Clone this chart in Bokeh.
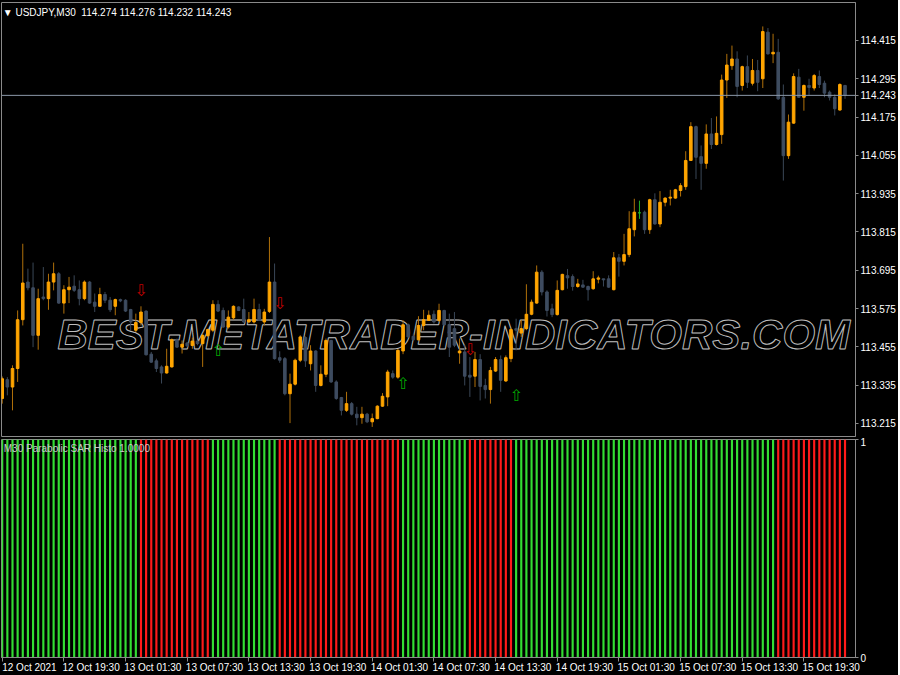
from bokeh.plotting import figure
from bokeh.layouts import column
from bokeh.models import Range1d, FixedTicker, Span, Label, NumeralTickFormatter
from bokeh.core.properties import value
from bokeh.embed import file_html
from bokeh.resources import INLINE

# ---------------- data ----------------
chart_title = "USDJPY,M30\u00a0\u00a0114.274 114.276 114.232 114.243"
indicator_title = "M30 Parabolic SAR Histo 1.0000"
last_price = 114.243

opens = [113.293, 113.352, 113.329, 113.387, 113.540, 113.658, 113.640, 113.491, 113.611, 113.606,
         113.658, 113.684, 113.592, 113.634, 113.645, 113.634, 113.606, 113.658, 113.595, 113.582,
         113.619, 113.601, 113.582, 113.603, 113.601, 113.572, 113.507, 113.531, 113.567, 113.432,
         113.411, 113.392, 113.373, 113.392, 113.477, 113.454, 113.467, 113.459, 113.473, 113.465,
         113.490, 113.507, 113.588, 113.569, 113.517, 113.546, 113.580, 113.572, 113.533, 113.533,
         113.572, 113.533, 113.566, 113.658, 113.421, 113.418, 113.308, 113.338, 113.413, 113.484,
         113.402, 113.442, 113.334, 113.369, 113.475, 113.345, 113.296, 113.256, 113.277, 113.244,
         113.233, 113.244, 113.220, 113.230, 113.269, 113.298, 113.371, 113.360, 113.442, 113.524,
         113.488, 113.477, 113.522, 113.538, 113.557, 113.538, 113.569, 113.525, 113.512, 113.436,
         113.439, 113.366, 113.363, 113.415, 113.334, 113.321, 113.379, 113.415, 113.348, 113.418,
         113.512, 113.498, 113.512, 113.557, 113.592, 113.689, 113.627, 113.574, 113.556, 113.634,
         113.678, 113.675, 113.644, 113.649, 113.644, 113.637, 113.667, 113.668, 113.668, 113.634,
         113.734, 113.723, 113.744, 113.822, 113.875, 113.877, 113.822, 113.916, 113.840, 113.908,
         113.921, 113.921, 113.945, 113.957, 114.039, 114.145, 114.051, 114.030, 114.122, 114.089,
         114.120, 114.291, 114.336, 114.357, 114.274, 114.333, 114.281, 114.321, 114.295, 114.441,
         114.373, 114.378, 114.237, 114.054, 114.156, 114.300, 114.237, 114.274, 114.266, 114.302,
         114.281, 114.253, 114.237, 114.197, 114.274]
highs = [113.362, 113.360, 113.397, 113.569, 113.778, 113.700, 113.719, 113.637, 113.705, 113.684,
         113.719, 113.689, 113.648, 113.674, 113.679, 113.663, 113.663, 113.661, 113.622, 113.640,
         113.627, 113.611, 113.606, 113.606, 113.604, 113.574, 113.559, 113.582, 113.569, 113.439,
         113.418, 113.397, 113.449, 113.481, 113.481, 113.475, 113.470, 113.484, 113.475, 113.496,
         113.512, 113.601, 113.601, 113.578, 113.569, 113.585, 113.582, 113.606, 113.564, 113.606,
         113.590, 113.574, 113.799, 113.716, 113.441, 113.423, 113.371, 113.418, 113.491, 113.488,
         113.460, 113.444, 113.397, 113.481, 113.477, 113.350, 113.298, 113.314, 113.282, 113.267,
         113.267, 113.248, 113.246, 113.272, 113.310, 113.383, 113.381, 113.448, 113.538, 113.528,
         113.496, 113.551, 113.571, 113.569, 113.569, 113.590, 113.571, 113.559, 113.564, 113.481,
         113.460, 113.423, 113.439, 113.432, 113.355, 113.392, 113.423, 113.428, 113.428, 113.515,
         113.543, 113.540, 113.651, 113.603, 113.710, 113.695, 113.632, 113.590, 113.663, 113.684,
         113.699, 113.682, 113.668, 113.665, 113.647, 113.692, 113.678, 113.668, 113.679, 113.752,
         113.746, 113.809, 113.880, 113.919, 113.913, 113.882, 113.919, 113.936, 113.943, 113.924,
         113.947, 113.950, 113.968, 114.068, 114.159, 114.148, 114.086, 114.152, 114.172, 114.177,
         114.308, 114.373, 114.399, 114.381, 114.336, 114.368, 114.357, 114.354, 114.459, 114.454,
         114.436, 114.420, 114.277, 114.183, 114.312, 114.326, 114.277, 114.295, 114.310, 114.321,
         114.289, 114.258, 114.246, 114.281, 114.276]
lows = [113.277, 113.303, 113.256, 113.345, 113.522, 113.632, 113.454, 113.446, 113.601, 113.571,
        113.632, 113.590, 113.559, 113.592, 113.627, 113.585, 113.601, 113.590, 113.564, 113.580,
        113.592, 113.564, 113.554, 113.595, 113.564, 113.507, 113.501, 113.522, 113.428, 113.405,
        113.376, 113.340, 113.371, 113.390, 113.452, 113.434, 113.454, 113.449, 113.460, 113.392,
        113.486, 113.501, 113.564, 113.515, 113.512, 113.540, 113.567, 113.530, 113.530, 113.528,
        113.536, 113.522, 113.561, 113.415, 113.405, 113.303, 113.216, 113.334, 113.407, 113.392,
        113.381, 113.314, 113.331, 113.360, 113.342, 113.289, 113.240, 113.251, 113.240, 113.209,
        113.214, 113.216, 113.204, 113.228, 113.267, 113.269, 113.355, 113.355, 113.432, 113.484,
        113.475, 113.475, 113.507, 113.536, 113.528, 113.533, 113.522, 113.423, 113.454, 113.402,
        113.334, 113.298, 113.329, 113.287, 113.293, 113.277, 113.376, 113.314, 113.345, 113.407,
        113.444, 113.486, 113.507, 113.554, 113.590, 113.616, 113.550, 113.548, 113.553, 113.632,
        113.637, 113.631, 113.640, 113.640, 113.600, 113.634, 113.654, 113.644, 113.640, 113.632,
        113.675, 113.710, 113.736, 113.801, 113.856, 113.809, 113.809, 113.838, 113.830, 113.895,
        113.898, 113.919, 113.926, 113.947, 114.039, 113.981, 113.947, 114.013, 114.075, 114.086,
        114.091, 114.235, 114.323, 114.237, 114.258, 114.266, 114.274, 114.256, 114.266, 114.371,
        114.344, 114.229, 113.976, 114.044, 114.154, 114.235, 114.195, 114.242, 114.258, 114.266,
        114.237, 114.227, 114.180, 114.195, 114.232]
closes = [113.355, 113.329, 113.387, 113.540, 113.655, 113.640, 113.491, 113.606, 113.606, 113.658,
          113.684, 113.592, 113.634, 113.642, 113.632, 113.606, 113.658, 113.592, 113.582, 113.619,
          113.601, 113.571, 113.603, 113.599, 113.567, 113.533, 113.531, 113.564, 113.430, 113.407,
          113.387, 113.373, 113.394, 113.477, 113.454, 113.463, 113.458, 113.473, 113.465, 113.491,
          113.509, 113.588, 113.567, 113.517, 113.548, 113.582, 113.569, 113.533, 113.540, 113.572,
          113.538, 113.564, 113.658, 113.418, 113.413, 113.308, 113.338, 113.413, 113.486, 113.411,
          113.442, 113.334, 113.369, 113.475, 113.345, 113.293, 113.256, 113.277, 113.244, 113.233,
          113.244, 113.220, 113.230, 113.269, 113.300, 113.376, 113.360, 113.444, 113.524, 113.486,
          113.477, 113.522, 113.540, 113.554, 113.533, 113.569, 113.524, 113.454, 113.460, 113.442,
          113.363, 113.360, 113.415, 113.331, 113.321, 113.381, 113.415, 113.350, 113.421, 113.509,
          113.507, 113.512, 113.557, 113.595, 113.689, 113.627, 113.569, 113.556, 113.632, 113.682,
          113.671, 113.644, 113.652, 113.642, 113.634, 113.668, 113.671, 113.665, 113.642, 113.734,
          113.723, 113.744, 113.825, 113.877, 113.875, 113.822, 113.916, 113.840, 113.908, 113.921,
          113.924, 113.947, 113.960, 114.039, 114.145, 114.049, 114.030, 114.122, 114.089, 114.124,
          114.291, 114.338, 114.357, 114.271, 114.333, 114.284, 114.321, 114.284, 114.443, 114.373,
          114.378, 114.232, 114.054, 114.159, 114.302, 114.237, 114.274, 114.268, 114.305, 114.277,
          114.250, 114.237, 114.201, 114.277, 114.243]

price_ticks = [113.215, 113.335, 113.455, 113.575, 113.695, 113.815,
               113.935, 114.055, 114.175, 114.295, 114.415]
time_tick_bars = [0, 12, 24, 36, 48, 60, 72, 84, 96, 108, 120, 132, 144, 156]
time_tick_labels = ["12 Oct 2021", "12 Oct 19:30", "13 Oct 01:30", "13 Oct 07:30",
                    "13 Oct 13:30", "13 Oct 19:30", "14 Oct 01:30", "14 Oct 07:30",
                    "14 Oct 13:30", "14 Oct 19:30", "15 Oct 01:30", "15 Oct 07:30",
                    "15 Oct 13:30", "15 Oct 19:30"]

# Parabolic SAR trend per bar as runs: (+1 = up / green, -1 = down / red, number of bars)
sar_runs = [(1, 27), (-1, 14), (1, 13), (-1, 24), (1, 13), (-1, 9), (1, 51), (-1, 14)]
histo_level = 1.0

signal_bars = [27, 42, 54, 78, 91, 100]
signal_dirs = [-1, 1, -1, 1, -1, 1]
signal_prices = [113.632, 113.444, 113.591, 113.340, 113.447, 113.303]

watermark = "BEST-METATRADER-INDICATORS.COM"

# ---------------- styling ----------------
BG = "#000000"
BULL = "#FFA500"
BULL_WICK = "#B0700A"
BEAR = "#3E4C60"
BEAR_WICK = "#3A4757"
DOJI = "#22B522"
AXIS = "#8A8A8A"
TXT = "#FFFFFF"
FONT = "Liberation Sans"
LABEL_SHIFT = 5.3   # time labels start right of their tick (MT4 style)
FRAME_W = 854

n = len(opens)
idx = list(range(n))
body_col, wick_col = [], []
for o, c in zip(opens, closes):
    if c > o:
        body_col.append(BULL); wick_col.append(BULL_WICK)
    elif c < o:
        body_col.append(BEAR); wick_col.append(BEAR_WICK)
    else:
        body_col.append(DOJI); wick_col.append(DOJI)
body_top = [max(o, c) for o, c in zip(opens, closes)]
body_bot = [min(o, c) for o, c in zip(opens, closes)]

trend = []
for d, k in sar_runs:
    trend += [d] * k
histo_vals = [histo_level] * n
histo_col = ["#33DD33" if t > 0 else "#FF1A1A" for t in trend]

xr = Range1d(-0.14, 166.04)

# ---------------- main price panel ----------------
p = figure(width=None, height=None, frame_width=FRAME_W, frame_height=434,
           x_range=xr, y_range=Range1d(113.174, 114.534),
           output_backend="svg", toolbar_location=None, x_axis_location=None,
           y_axis_location="right", background_fill_color=BG, border_fill_color=BG,
           min_border_left=1, min_border_right=10, min_border_top=2, min_border_bottom=1)
p.grid.visible = False
p.outline_line_color = AXIS
p.yaxis.ticker = FixedTicker(ticks=price_ticks + [last_price])
p.yaxis.formatter = NumeralTickFormatter(format="0.000")
p.yaxis.axis_line_color = AXIS
p.yaxis.major_tick_line_color = AXIS
p.yaxis.major_tick_out = 3
p.yaxis.major_tick_in = 0
p.yaxis.minor_tick_line_color = None
p.yaxis.major_label_text_color = TXT
p.yaxis.major_label_text_font = FONT
p.yaxis.major_label_text_font_size = "10px"
p.yaxis.major_label_standoff = 2

p.add_layout(Label(x=10.76, y=113.494, text=watermark, text_font=FONT,
                   text_font_size="42px", text_font_style="bold italic",
                   text_color="rgba(0,0,0,0)", text_outline_color="#BDBDBD",
                   text_align="left", text_baseline="middle", level="underlay"))

p.segment(x0=idx, y0=lows, x1=idx, y1=highs, line_color=wick_col, line_width=1)
p.vbar(x=idx, top=body_top, bottom=body_bot, width=0.5, fill_color=body_col,
       line_color=body_col, line_width=1)

p.add_layout(Span(location=last_price, dimension="width", line_color="#8C98A8", line_width=1))

arrow_txt = ["\u21e9" if d < 0 else "\u21e7" for d in signal_dirs]
arrow_col = ["#C00000" if d < 0 else "#00A800" for d in signal_dirs]
p.text(x=signal_bars, y=signal_prices, text=arrow_txt, text_color=arrow_col,
       text_font=value("DejaVu Sans"), text_font_size="16px",
       text_align="center", text_baseline="middle")

p.add_layout(Label(x=0.1, y=114.520, text="\u25bc " + chart_title, text_font=FONT,
                   text_font_size="10px", text_color=TXT, text_align="left",
                   text_baseline="top"))

# ---------------- histogram panel ----------------
h = figure(width=None, height=None, frame_width=FRAME_W, frame_height=218,
           x_range=xr, y_range=Range1d(0, 1),
           output_backend="svg", toolbar_location=None, y_axis_location="right",
           background_fill_color=BG, border_fill_color=BG,
           min_border_left=1, min_border_right=10, min_border_top=2, min_border_bottom=17)
h.grid.visible = False
h.outline_line_color = AXIS
h.vbar(x=idx, top=histo_vals, bottom=0, width=0.42, fill_color=histo_col, line_color=None)

h.yaxis.ticker = FixedTicker(ticks=[0, 1])
h.yaxis.major_label_overrides = {0: "0", 1: "1"}
h.yaxis.major_tick_out = 3
h.yaxis.major_label_standoff = 2

# labels sit right of their tick marks: major ticks carry the labels, minor ticks mark the bars
label_pos = [b + LABEL_SHIFT for b in time_tick_bars]
h.xaxis.ticker = FixedTicker(ticks=label_pos, minor_ticks=time_tick_bars)
h.xaxis.major_label_overrides = {x: s for x, s in zip(label_pos, time_tick_labels)}
h.xaxis.major_tick_line_color = None
h.xaxis.major_tick_out = 0
h.xaxis.major_tick_in = 0
h.xaxis.minor_tick_line_color = AXIS
h.xaxis.minor_tick_out = 4
h.xaxis.minor_tick_in = 0
h.xaxis.major_label_standoff = 0

for ax in (h.xaxis, h.yaxis):
    ax.axis_line_color = AXIS
    ax.major_label_text_color = TXT
    ax.major_label_text_font = FONT
    ax.major_label_text_font_size = "10px"
h.yaxis.major_tick_line_color = AXIS
h.yaxis.major_tick_in = 0
h.yaxis.minor_tick_line_color = None

h.add_layout(Label(x=0.3, y=0.985, text=indicator_title, text_font=FONT,
                   text_font_size="10px", text_color="#C8C8C8", text_align="left",
                   text_baseline="top"))

layout = column(p, h, spacing=0, styles={"background-color": BG})
open("out.html", "w").write(file_html(layout, INLINE))
